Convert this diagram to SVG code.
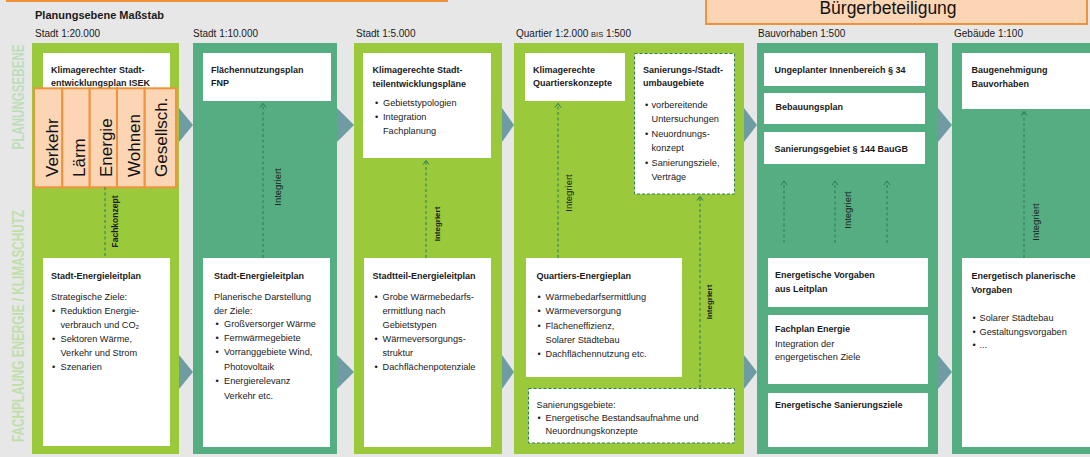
<svg xmlns="http://www.w3.org/2000/svg" width="1090" height="457" viewBox="0 0 1090 457">
<defs>
<style>
text{font-family:"Liberation Sans","DejaVu Sans",sans-serif;fill:#1a1a1a}
.lg{fill:#9aca3c}
.dg{fill:#55ae82}
.box{fill:#ffffff}
.dbox{fill:#ffffff;stroke:#2f7d55;stroke-width:1;stroke-dasharray:3 2}
.ob{fill:#fcd5b4;stroke:#f0923c;stroke-width:2}
.tri{fill:#6e9ca2}
.t{font-size:9px;font-weight:bold}
.b{font-size:9.2px}
.h{font-size:10px}
.ot{font-size:17px;fill:#111}
.it{font-size:9.5px}
.itb{font-size:8px;font-weight:bold}
.side{font-size:16px;font-weight:bold}
.dash{fill:none;stroke:#2a7a58;stroke-width:1;stroke-dasharray:3 2.5}
</style>
<marker id="chev" viewBox="-5 -4 6 8" refX="0" refY="0" markerWidth="6" markerHeight="8" markerUnits="userSpaceOnUse" orient="auto">
<path d="M-4,-3 L0,0 L-4,3" fill="none" stroke="#2a7a58" stroke-width="1"/>
</marker>
</defs>

<rect x="0" y="0" width="1090" height="457" fill="#e7e7e8"/>

<!-- top bars -->
<g id="top-bar">
<rect x="7" y="-20" width="440" height="21" class="ob"/>
</g>
<g id="buergerbeteiligung">
<rect x="706" y="-6" width="381" height="30" class="ob"/>
<text x="888" y="14" text-anchor="middle" style="font-size:17.5px;fill:#111">Bürgerbeteiligung</text>
</g>

<!-- headers -->
<g id="headers">
<text x="35" y="19" style="font-size:11px;font-weight:bold">Planungsebene Maßstab</text>
<text x="35" y="37" class="h">Stadt 1:20.000</text>
<text x="193" y="37" class="h">Stadt 1:10.000</text>
<text x="356" y="37" class="h">Stadt 1:5.000</text>
<text x="516" y="37" class="h">Quartier 1:2.000 <tspan style="font-size:7.5px">BIS</tspan> 1:500</text>
<text x="758" y="37" class="h">Bauvorhaben 1:500</text>
<text x="954" y="37" class="h">Gebäude 1:100</text>
</g>

<!-- side labels -->
<g id="side-labels">
<text transform="translate(23.5 97) rotate(-90)" text-anchor="middle" class="side" style="fill:#bcdeba" textLength="105" lengthAdjust="spacingAndGlyphs">PLANUNGSEBENE</text>
<text transform="translate(24 326) rotate(-90)" text-anchor="middle" class="side" style="fill:#c1deaa" textLength="232" lengthAdjust="spacingAndGlyphs">FACHPLAUNG ENERGIE / KLIMASCHUTZ</text>
</g>

<!-- flow triangles -->
<g id="flow-arrows">
<polygon class="tri" points="179,108 193,125 179,142"/>
<polygon class="tri" points="179,355 193,372 179,389"/>
<polygon class="tri" points="337,108 354,125 337,142"/>
<polygon class="tri" points="337,355 354,372 337,389"/>
<polygon class="tri" points="502,108 514,125 502,142"/>
<polygon class="tri" points="502,355 514,372 502,389"/>
<polygon class="tri" points="744,108 757,125 744,142"/>
<polygon class="tri" points="744,355 757,372 744,389"/>
<polygon class="tri" points="938,108 952,125 938,142"/>
<polygon class="tri" points="938,355 952,372 938,389"/>
</g>

<!-- Column 1 -->
<g id="col1">
<rect x="32" y="43" width="147" height="411" class="lg"/>
<g id="isek">
<rect x="43" y="53" width="127" height="127" class="box"/>
<text x="51" y="72.5" class="t">Klimagerechter Stadt-</text>
<text x="51" y="86" class="t">entwicklungsplan ISEK</text>
</g>
<g id="themes">
<rect x="34" y="88.3" width="28.3" height="99" class="ob"/>
<rect x="62.3" y="88.3" width="27.4" height="99" class="ob"/>
<rect x="89.7" y="88.3" width="27.3" height="99" class="ob"/>
<rect x="117" y="88.3" width="27.7" height="99" class="ob"/>
<rect x="144.7" y="88.3" width="31.3" height="99" class="ob"/>
<text transform="translate(58 177) rotate(-90)" class="ot">Verkehr</text>
<text transform="translate(85 177) rotate(-90)" class="ot">Lärm</text>
<text transform="translate(111.5 177) rotate(-90)" class="ot">Energie</text>
<text transform="translate(139.5 177) rotate(-90)" class="ot">Wohnen</text>
<text transform="translate(166.5 177) rotate(-90)" class="ot">Gesellsch.</text>
</g>
<g id="sel1">
<rect x="43" y="258" width="127" height="188" class="box"/>
<text x="51" y="278.5" class="t">Stadt-Energieleitplan</text>
<text x="51" y="300" class="b">Strategische Ziele:</text>
<text x="52" y="314" class="b">•</text><text x="60.5" y="314" class="b">Reduktion Energie-</text>
<text x="60.5" y="327.5" class="b">verbrauch und CO₂</text>
<text x="52" y="341.5" class="b">•</text><text x="60.5" y="341.5" class="b">Sektoren Wärme,</text>
<text x="60.5" y="355.5" class="b">Verkehr und Strom</text>
<text x="52" y="369.5" class="b">•</text><text x="60.5" y="369.5" class="b">Szenarien</text>
</g>
</g>

<!-- Column 2 -->
<g id="col2">
<rect x="193" y="43" width="144" height="411" class="dg"/>
<g id="fnp">
<rect x="203" y="53" width="128" height="48" class="box"/>
<text x="211" y="72.5" class="t">Flächennutzungsplan</text>
<text x="211" y="86" class="t">FNP</text>
</g>
<g id="sel2">
<rect x="203" y="258" width="127" height="189" class="box"/>
<text x="214" y="278.5" class="t">Stadt-Energieleitplan</text>
<text x="214" y="300" class="b">Planerische Darstellung</text>
<text x="214" y="313.5" class="b">der Ziele:</text>
<text x="215.5" y="327" class="b">•</text><text x="224" y="327" class="b">Großversorger Wärme</text>
<text x="215.5" y="341" class="b">•</text><text x="224" y="341" class="b">Fernwärmegebiete</text>
<text x="215.5" y="355" class="b">•</text><text x="224" y="355" class="b">Vorranggebiete Wind,</text>
<text x="224" y="369.5" class="b">Photovoltaik</text>
<text x="215.5" y="384" class="b">•</text><text x="224" y="384" class="b">Energierelevanz</text>
<text x="224" y="398.5" class="b">Verkehr etc.</text>
</g>
</g>

<!-- Column 3 -->
<g id="col3">
<rect x="354" y="43" width="148" height="411" class="lg"/>
<g id="stadtteilplaene">
<rect x="363" y="53" width="128" height="105" class="box"/>
<text x="372.5" y="73" class="t">Klimagerechte Stadt-</text>
<text x="372.5" y="87" class="t">teilentwicklungspläne</text>
<text x="375" y="106" class="b">•</text><text x="383" y="106" class="b">Gebietstypologien</text>
<text x="375" y="120" class="b">•</text><text x="383" y="120" class="b">Integration</text>
<text x="383" y="134" class="b">Fachplanung</text>
</g>
<g id="sel3">
<rect x="364" y="258" width="127" height="189" class="box"/>
<text x="372.5" y="278.5" class="t">Stadtteil-Energieleitplan</text>
<text x="374.5" y="299.5" class="b">•</text><text x="382.5" y="299.5" class="b">Grobe Wärmebedarfs-</text>
<text x="382.5" y="313.5" class="b">ermittlung nach</text>
<text x="382.5" y="327.5" class="b">Gebietstypen</text>
<text x="374.5" y="341.5" class="b">•</text><text x="382.5" y="341.5" class="b">Wärmeversorgungs-</text>
<text x="382.5" y="355.5" class="b">struktur</text>
<text x="374.5" y="370" class="b">•</text><text x="382.5" y="370" class="b">Dachflächenpotenziale</text>
</g>
</g>

<!-- Column 4 -->
<g id="col4">
<rect x="514" y="43" width="230" height="411" class="lg"/>
<g id="quartierskonzepte">
<rect x="525" y="53" width="100" height="48" class="box"/>
<text x="533" y="72.5" class="t">Klimagerechte</text>
<text x="533" y="86" class="t">Quartierskonzepte</text>
</g>
<g id="umbaugebiete">
<rect x="634.5" y="53.5" width="100" height="140.5" class="dbox"/>
<text x="643" y="72.5" class="t">Sanierungs-/Stadt-</text>
<text x="643" y="86" class="t">umbaugebiete</text>
<text x="645" y="107.5" class="b">•</text><text x="651.5" y="107.5" class="b">vorbereitende</text>
<text x="651.5" y="122" class="b">Untersuchungen</text>
<text x="645" y="136.5" class="b">•</text><text x="651.5" y="136.5" class="b">Neuordnungs-</text>
<text x="651.5" y="150.5" class="b">konzept</text>
<text x="645" y="165.5" class="b">•</text><text x="651.5" y="165.5" class="b">Sanierungsziele,</text>
<text x="651.5" y="180" class="b">Verträge</text>
</g>
<g id="quartiersenergieplan">
<rect x="526" y="258" width="156" height="119" class="box"/>
<text x="536.5" y="278.5" class="t">Quartiers-Energieplan</text>
<text x="537.5" y="300" class="b">•</text><text x="545.5" y="300" class="b">Wärmebedarfsermittlung</text>
<text x="537.5" y="314" class="b">•</text><text x="545.5" y="314" class="b">Wärmeversorgung</text>
<text x="537.5" y="328.5" class="b">•</text><text x="545.5" y="328.5" class="b">Flächeneffizienz,</text>
<text x="545.5" y="342.5" class="b">Solarer Städtebau</text>
<text x="537.5" y="356.5" class="b">•</text><text x="545.5" y="356.5" class="b">Dachflächennutzung etc.</text>
</g>
<g id="sanierungsgebiete">
<rect x="528.5" y="388.5" width="206" height="54.5" class="dbox"/>
<text x="536.5" y="407.5" class="b">Sanierungsgebiete:</text>
<text x="537.5" y="420.5" class="b">•</text><text x="545.5" y="420.5" class="b">Energetische Bestandsaufnahme und</text>
<text x="545.5" y="434" class="b">Neuordnungskonzepte</text>
</g>
</g>

<!-- Column 5 -->
<g id="col5">
<rect x="757" y="43" width="181" height="411" class="dg"/>
<g id="innenbereich">
<rect x="764" y="53" width="161" height="33" class="box"/>
<text x="774.5" y="73.3" class="t">Ungeplanter Innenbereich § 34</text>
</g>
<g id="bebauungsplan">
<rect x="764" y="93" width="161" height="31" class="box"/>
<text x="775.5" y="110" class="t">Bebauungsplan</text>
</g>
<g id="sanierungsgebiet144">
<rect x="764" y="132" width="161" height="32" class="box"/>
<text x="774.5" y="151.6" class="t">Sanierungsgebiet § 144 BauGB</text>
</g>
<g id="vorgaben-leitplan">
<rect x="768" y="258" width="160" height="49" class="box"/>
<text x="775" y="277.6" class="t">Energetische Vorgaben</text>
<text x="775" y="291.6" class="t">aus Leitplan</text>
</g>
<g id="fachplan-energie">
<rect x="768" y="315" width="160" height="69" class="box"/>
<text x="775" y="332" class="t">Fachplan Energie</text>
<text x="775" y="346.6" class="b">Integration der</text>
<text x="775" y="360" class="b">engergetischen Ziele</text>
</g>
<g id="sanierungsziele">
<rect x="768" y="393" width="160" height="54" class="box"/>
<text x="775" y="407.6" class="t">Energetische Sanierungsziele</text>
</g>
</g>

<!-- Column 6 -->
<g id="col6">
<rect x="952" y="43" width="150" height="411" class="dg"/>
<g id="baugenehmigung">
<rect x="962" y="53" width="140" height="56" class="box"/>
<text x="971.5" y="73.3" class="t">Baugenehmigung</text>
<text x="971.5" y="86.6" class="t">Bauvorhaben</text>
</g>
<g id="planerische-vorgaben">
<rect x="962" y="258" width="140" height="189" class="box"/>
<text x="971.5" y="279.3" class="t">Energetisch planerische</text>
<text x="971.5" y="293.3" class="t">Vorgaben</text>
<text x="972.5" y="321" class="b">•</text><text x="979.5" y="321" class="b">Solarer Städtebau</text>
<text x="972.5" y="334.5" class="b">•</text><text x="979.5" y="334.5" class="b">Gestaltungsvorgaben</text>
<text x="972.5" y="348" class="b">•</text><text x="979.5" y="348" class="b">...</text>
</g>
</g>

<!-- Connectors -->
<g id="connectors">
<line x1="105" y1="187" x2="105" y2="258" class="dash"/>
<text transform="translate(118 221.5) rotate(-90)" text-anchor="middle" style="font-size:8.5px;font-weight:bold">Fachkonzept</text>

<line x1="263" y1="258" x2="263" y2="103.5" class="dash" marker-end="url(#chev)"/>
<text transform="translate(280.5 187) rotate(-90)" text-anchor="middle" class="it">Integriert</text>

<line x1="426" y1="258" x2="426" y2="160.5" class="dash" marker-end="url(#chev)"/>
<text transform="translate(440 224) rotate(-90)" text-anchor="middle" class="itb">Integriert</text>

<line x1="558" y1="258" x2="558" y2="103.5" class="dash" marker-end="url(#chev)"/>
<text transform="translate(571.5 193) rotate(-90)" text-anchor="middle" class="it">Integriert</text>

<line x1="700" y1="388" x2="700" y2="196.5" class="dash" marker-end="url(#chev)"/>
<text transform="translate(712 302) rotate(-90)" text-anchor="middle" class="itb">Integriert</text>

<line x1="784" y1="243" x2="784" y2="181" class="dash" marker-end="url(#chev)"/>
<line x1="835" y1="243" x2="835" y2="181" class="dash" marker-end="url(#chev)"/>
<line x1="887" y1="243" x2="887" y2="181" class="dash" marker-end="url(#chev)"/>
<text transform="translate(850.5 210) rotate(-90)" text-anchor="middle" class="it">Integriert</text>

<line x1="1024" y1="258" x2="1024" y2="111.5" class="dash" marker-end="url(#chev)"/>
<text transform="translate(1038.5 222) rotate(-90)" text-anchor="middle" class="it">Integriert</text>
</g>
</svg>
